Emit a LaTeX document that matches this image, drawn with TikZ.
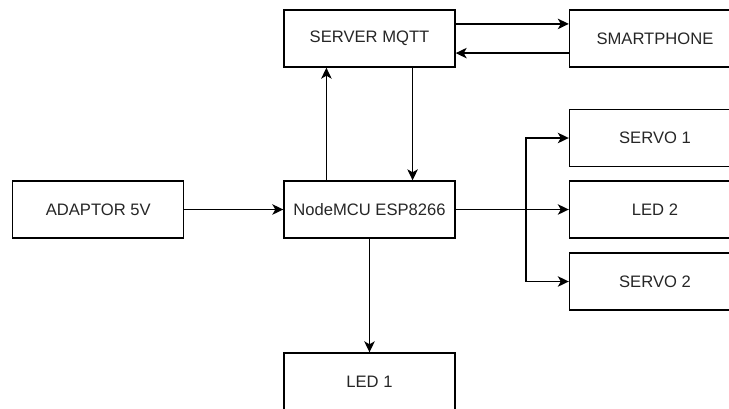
\documentclass[tikz,border=0pt]{standalone}
\usepackage{fontspec}
\setmainfont{Liberation Sans}
\usetikzlibrary{arrows.meta,calc}
\begin{document}
\begin{tikzpicture}[x=1pt,y=-1pt,
  box/.style={draw, line width=1.4pt, minimum width=171pt, minimum height=57pt, inner sep=0pt,
    font=\fontsize{16.6}{20}\selectfont, text=black!85},
  conn/.style={line width=1.4pt, -{Stealth[length=11pt,width=10.5pt,inset=3pt]}}]
\useasboundingbox (0,0) rectangle (729,408);
\clip (0,0) rectangle (729,408);
\node[box] (server) at (369.5,38.5) {SERVER MQTT};
\node[box] (phone) at (655,38.5) {SMARTPHONE};
\node[box] (servo1) at (655,138) {SERVO 1};
\node[box] (led2) at (655,209.5) {LED 2};
\node[box] (servo2) at (655,281.5) {SERVO 2};
\node[box] (adaptor) at (98.25,209.5) {ADAPTOR 5V};
\node[box] (mcu) at (369.5,209.5) {NodeMCU ESP8266};
\node[box] (led1) at (369.5,381.5) {LED 1};
\coordinate (bx) at (526,209.5);
% adaptor to mcu
\draw[conn] (adaptor) -- (mcu);
% mcu <-> server
\draw[conn] ($(mcu.north west)!0.25!(mcu.north east)$) -- ($(server.south west)!0.25!(server.south east)$);
\draw[conn] ($(server.south west)!0.75!(server.south east)$) -- ($(mcu.north west)!0.75!(mcu.north east)$);
% server <-> phone
\draw[conn] ($(server.north east)!0.25!(server.south east)$) -- ($(phone.north west)!0.25!(phone.south west)$);
\draw[conn] ($(phone.north west)!0.75!(phone.south west)$) -- ($(server.north east)!0.75!(server.south east)$);
% mcu to outputs
\draw[conn] (mcu.east) -- (led2.west);
\draw[conn] (mcu.east) -- (bx) |- (servo1.west);
\draw[conn] (mcu.east) -- (bx) |- (servo2.west);
\draw[conn] (mcu) -- (led1);
\end{tikzpicture}
\end{document}
